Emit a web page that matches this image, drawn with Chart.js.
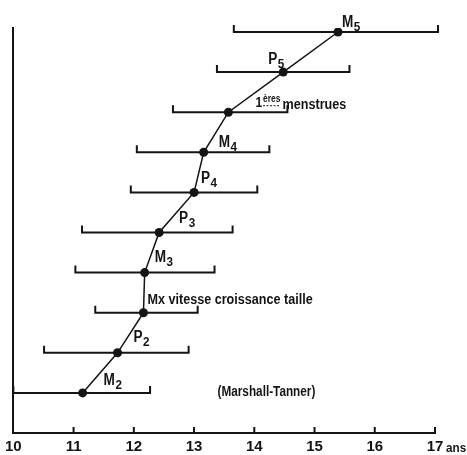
<!DOCTYPE html>
<html>
<head>
<meta charset="utf-8">
<script src="https://cdn.jsdelivr.net/npm/chart.js"></script>
<style>
  html, body { margin: 0; padding: 0; background: #fff; }
</style>
</head>
<body>
<canvas id="chart-stades" width="467" height="455"></canvas>
<script>
// stades pubertaires (Marshall-Tanner), dans l'ordre du graphique
var stages = ["M2", "P2", "Mx vitesse croissance taille", "M3", "P3", "P4", "M4", "1ères menstrues", "P5", "M5"];
var ageMean = [11.15, 11.73, 12.16, 12.18, 12.42, 13.0, 13.16, 13.57, 14.48, 15.39];
var ageLow = [10.0, 10.51, 11.36, 11.03, 11.14, 11.95, 12.05, 12.65, 13.38, 13.66];
var ageHigh = [12.27, 12.91, 13.06, 13.34, 13.64, 14.05, 14.25, 14.55, 15.58, 17.05];
var xTicks = [10, 11, 12, 13, 14, 15, 16, 17];

var FONT = '"Liberation Sans", Arial, sans-serif';
var INK = "#141414";

// label offsets from each point (px), same order as stages
var labelOffset = [[21, -8], [16, -11], [4, -9], [10, -11], [20, -10], [7, -9], [15, -5], [27, -5], [-15, -8], [4, -5]];

function txt(ctx, s, x, y, size, sx) {
  ctx.save();
  ctx.translate(x, y);
  ctx.scale(sx, 1);
  ctx.font = "bold " + size + "px " + FONT;
  ctx.fillText(s, 0, 0);
  var w = ctx.measureText(s).width * sx;
  ctx.restore();
  return w;
}

var errorBars = {
  id: "errorBars",
  beforeDatasetsDraw: function(chart) {
    var x = chart.scales.x, y = chart.scales.y, ctx = chart.ctx;
    ctx.save();
    ctx.strokeStyle = INK;
    ctx.lineWidth = 2;
    stages.forEach(function(s, i) {
      var yy = y.getPixelForValue(i + 1);
      var x0 = x.getPixelForValue(ageLow[i]);
      var x1 = x.getPixelForValue(ageHigh[i]);
      ctx.beginPath();
      ctx.moveTo(x0, yy - 7);
      ctx.lineTo(x0, yy);
      ctx.lineTo(x1, yy);
      ctx.lineTo(x1, yy - 7);
      ctx.stroke();
    });
    ctx.restore();
  }
};

var decorations = {
  id: "decorations",
  afterDraw: function(chart) {
    var x = chart.scales.x, y = chart.scales.y, ctx = chart.ctx;
    var bottom = chart.chartArea.bottom;
    ctx.save();
    ctx.strokeStyle = INK;
    ctx.fillStyle = INK;
    ctx.lineWidth = 2;
    // small inward tick marks
    xTicks.forEach(function(v) {
      if (v === xTicks[0]) return;
      var px = x.getPixelForValue(v);
      ctx.beginPath();
      ctx.moveTo(px, bottom);
      ctx.lineTo(px, bottom - 6);
      ctx.stroke();
    });
    txt(ctx, "ans", x.getPixelForValue(17) + 11, 452, 13, 0.9);

    // stage labels
    stages.forEach(function(s, i) {
      var px = x.getPixelForValue(ageMean[i]) + labelOffset[i][0];
      var py = y.getPixelForValue(i + 1) + labelOffset[i][1];
      if (/^[MP]\d$/.test(s)) {
        var w = txt(ctx, s[0], px, py, 16, 0.85);
        txt(ctx, s[1], px + w + 0.5, py + 4, 13, 0.9);
      } else if (s.indexOf("ères") > 0) {
        var w1 = txt(ctx, "1", px, py, 15, 0.8);
        var w2 = txt(ctx, "ères", px + w1 + 1, py - 5, 10, 0.85);
        ctx.save();
        ctx.lineWidth = 1;
        ctx.setLineDash([2, 1.5]);
        ctx.beginPath();
        ctx.moveTo(px + w1 + 1, py - 1.5);
        ctx.lineTo(px + w1 + 1 + w2, py - 1.5);
        ctx.stroke();
        ctx.restore();
        txt(ctx, s.split(" ")[1], px + w1 + w2 + 3, py + 2, 14, 0.9);
      } else {
        txt(ctx, s, px, py, 14, 0.9);
      }
    });

    txt(ctx, "(Marshall-Tanner)", x.getPixelForValue(13.39), y.getPixelForValue(0.93), 14, 0.84);
    ctx.restore();
  }
};

new Chart(document.getElementById("chart-stades"), {
  type: "scatter",
  data: {
    datasets: [{
      data: stages.map(function(s, i) { return { x: ageMean[i], y: i + 1 }; }),
      showLine: true,
      borderColor: INK,
      borderWidth: 1.5,
      pointRadius: 4.5,
      pointBackgroundColor: INK,
      pointBorderWidth: 0
    }]
  },
  options: {
    responsive: false,
    animation: false,
    devicePixelRatio: 1,
    layout: { padding: { left: 12, right: 32, top: 28, bottom: -6 } },
    plugins: { legend: { display: false }, tooltip: { enabled: false } },
    scales: {
      x: {
        type: "linear",
        min: 10,
        max: 17,
        afterBuildTicks: function(scale) {
          scale.ticks = xTicks.map(function(v) { return { value: v }; });
        },
        ticks: {
          color: INK,
          padding: 5,
          maxRotation: 0,
          font: { family: FONT, weight: "bold", size: 15 }
        },
        grid: { display: false, drawTicks: false },
        border: { display: true, color: INK, width: 2 }
      },
      y: {
        min: 0,
        max: 10.1,
        ticks: { display: false },
        grid: { display: false, drawTicks: false },
        border: { display: true, color: INK, width: 2 }
      }
    }
  },
  plugins: [errorBars, decorations]
});
</script>
</body>
</html>
